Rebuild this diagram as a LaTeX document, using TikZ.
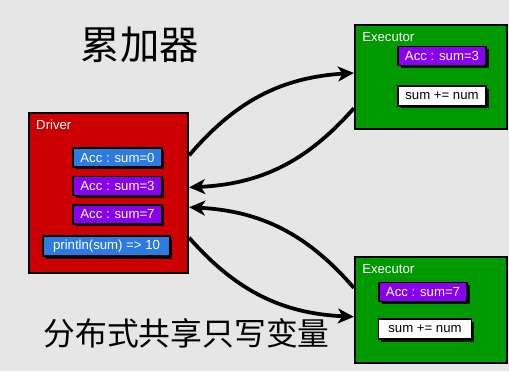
\documentclass[tikz,border=0pt]{standalone}
\usepackage{fontspec}
\setmainfont{Liberation Sans}
\newfontfamily\cjk{Noto Sans CJK SC}
\usetikzlibrary{arrows.meta,shadows,positioning}
\definecolor{bggray}{HTML}{E6E6E6}
\definecolor{drvred}{HTML}{CC0000}
\definecolor{exgreen}{HTML}{009900}
\definecolor{accblue}{HTML}{2C7BE0}
\definecolor{accpurple}{HTML}{8800EE}

\begin{document}
\begin{tikzpicture}[x=0.02cm, y=-0.02cm, font=\fontsize{7.5}{9}\selectfont,
  bigbox/.style={draw=black, line width=0.045cm, inner sep=0pt},
  valbox/.style={draw=black, line width=0.03cm, text=white, inner sep=0pt,
    minimum width=1.78cm, minimum height=0.38cm,
    drop shadow={shadow xshift=0.05cm, shadow yshift=-0.05cm, fill=black, opacity=0.9}},
  lbl/.style={text=white, inner sep=0pt, anchor=north west},
  flow/.style={line width=0.075cm, -{Stealth[length=0.32cm, width=0.3cm, inset=0.09cm]}, bend angle=23}]
  % background
  \fill[bggray] (0,0) rectangle (509,371);
  \useasboundingbox (0,0) rectangle (509,371);

  % titles
  \node[font=\cjk\fontsize{22.4}{26}\selectfont] (title) at (140,45) {累加器};
  \node[font=\cjk\fontsize{18.1}{22}\selectfont] (subtitle) at (186.5,333) {分布式共享只写变量};

  % driver
  \node[bigbox, fill=drvred, minimum width=3.18cm, minimum height=3.2cm] (driver) at (108.5,193) {};
  \node[lbl] (drvlbl) at ([xshift=0.16cm, yshift=-0.16cm]driver.north west) {Driver};
  \node[valbox, fill=accblue] (acc0) at (117.5,157.5) {Acc : sum=0};
  \node[valbox, fill=accpurple, below=0.16cm of acc0] (acc3) {Acc : sum=3};
  \node[valbox, fill=accpurple, below=0.16cm of acc3] (acc7) {Acc : sum=7};
  \node[valbox, fill=accblue, minimum width=2.54cm, minimum height=0.4cm] (print) at (106.5,246) {println(sum) => 10};

  % executor (top)
  \node[bigbox, fill=exgreen, minimum width=3.04cm, minimum height=2.08cm] (exec1) at (431,77) {};
  \node[lbl] (exlbl1) at ([xshift=0.16cm, yshift=-0.16cm]exec1.north west) {Executor};
  \node[valbox, fill=accpurple, minimum width=1.76cm] (exacc1) at (442,56) {Acc : sum=3};
  \node[valbox, fill=white, text=black, minimum width=1.76cm, minimum height=0.4cm] (exsum1) at (442,96) {sum += num};

  % executor (bottom)
  \node[bigbox, fill=exgreen, minimum width=3.04cm, minimum height=2.12cm] (exec2) at (431,310) {};
  \node[lbl] (exlbl2) at ([xshift=0.16cm, yshift=-0.16cm]exec2.north west) {Executor};
  \node[valbox, fill=accpurple, minimum width=1.76cm] (exacc2) at (423,292) {Acc : sum=7};
  \node[valbox, fill=white, text=black, minimum width=1.86cm, minimum height=0.4cm] (exsum2) at (425,329) {sum += num};

  % accumulator traffic
  \draw[flow] (driver.25) to[bend left] (exec1.177);
  \draw[flow] (exec1.202) to[bend left] (driver.4);
  \draw[flow] (exec2.164) to[bend right] (driver.-10);
  \draw[flow] (driver.-29) to[bend right] (exec2.185);
\end{tikzpicture}
\end{document}
